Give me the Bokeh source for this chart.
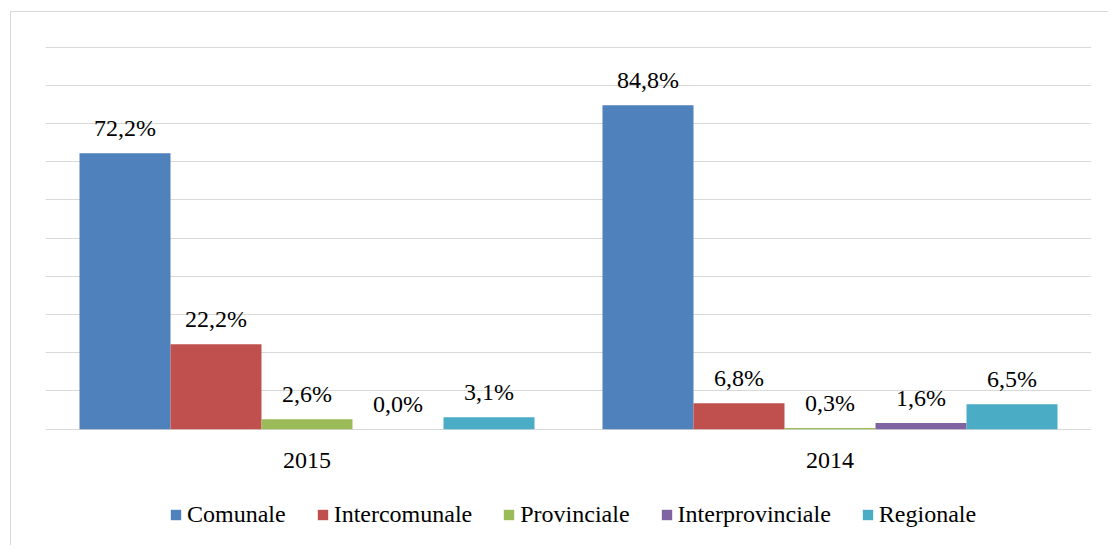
from bokeh.plotting import figure
from bokeh.models import (ColumnDataSource, FactorRange, Range1d, Legend, LegendItem,
                          SingleIntervalTicker)
from bokeh.transform import dodge
from bokeh.core.properties import value
from bokeh.embed import file_html
from bokeh.resources import INLINE

# ---- data ----
years = ["2015", "2014"]
series = ["Comunale", "Intercomunale", "Provinciale", "Interprovinciale", "Regionale"]
comunale = [72.2, 84.8]
intercomunale = [22.2, 6.8]
provinciale = [2.6, 0.3]
interprovinciale = [0.0, 1.6]
regionale = [3.1, 6.5]
colors = ["#4F81BD", "#C0504D", "#9BBB59", "#8064A2", "#4BACC6"]

values = [comunale, intercomunale, provinciale, interprovinciale, regionale]

FONT = "'Liberation Serif', 'Times New Roman', serif"

p = figure(x_range=FactorRange(factors=years, range_padding=0),
           y_range=Range1d(-30.7, 101.2),
           width=1098, height=534, output_backend="svg", toolbar_location=None,
           min_border_left=34, min_border_right=18, min_border_top=30,
           min_border_bottom=0)
p.margin = (11, 0, 0, 10)
p.styles = {"border-left": "1px solid #d9d9d9", "border-top": "1px solid #d9d9d9"}
p.outline_line_color = None
p.background_fill_color = "white"
p.border_fill_color = "white"
p.xaxis.visible = False
p.yaxis.visible = False

data = {"year": years}
for name, vals in zip(series, values):
    data[name] = vals
    data[name + "_lbl"] = [f"{v:.1f}%".replace(".", ",") for v in vals]
src = ColumnDataSource(data)

bw = 0.174
items = []
for i, (name, col) in enumerate(zip(series, colors)):
    off = (i - 2) * bw
    r = p.vbar(x=dodge("year", off, range=p.x_range), top=name, width=bw,
               source=src, fill_color=col, line_color=None)
    p.text(x=dodge("year", off, range=p.x_range), y=name, text=name + "_lbl",
           source=src, text_align="center", text_baseline="middle",
           y_offset=-25, text_font=value(FONT), text_font_size="24px",
           text_color="black")
    items.append(LegendItem(label=name, renderers=[r]))

# category labels under the baseline
p.text(x=years, y=[0] * len(years), text=years, text_align="center",
       text_baseline="middle", y_offset=31, text_font=value(FONT),
       text_font_size="24px", text_color="black")

# grid
p.ygrid.ticker = SingleIntervalTicker(interval=10, num_minor_ticks=0)
p.ygrid.bounds = (0, 100)
p.ygrid.grid_line_color = "#d9d9d9"
p.ygrid.grid_line_width = 1
p.xgrid.grid_line_color = None

legend = Legend(items=items, orientation="horizontal", location=(124, 18),
                glyph_width=13, glyph_height=13, label_standoff=5, spacing=30,
                padding=0, margin=0, border_line_color=None,
                background_fill_alpha=0,
                label_text_font=FONT, label_text_font_size="24px",
                label_text_color="black")
p.add_layout(legend, "center")

open("out.html", "w").write(file_html(p, INLINE))
